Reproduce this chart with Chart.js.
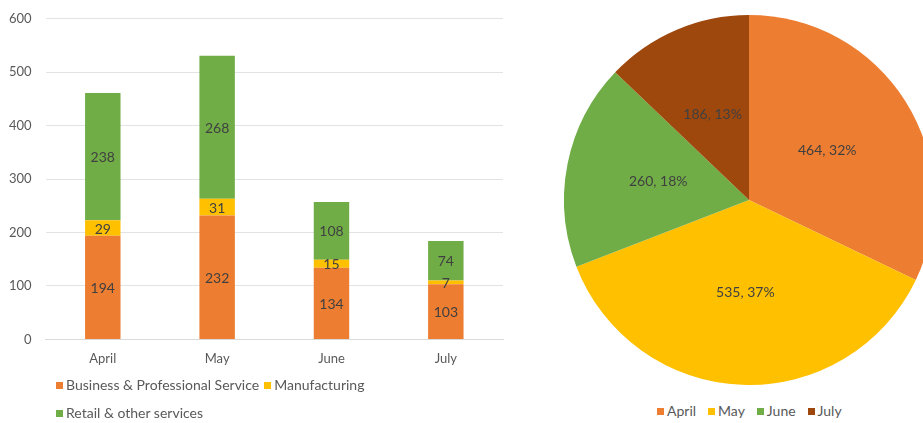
<!DOCTYPE html>
<html>
<head>
<meta charset="utf-8">
<script src="https://cdn.jsdelivr.net/npm/chart.js@4.4.1/dist/chart.umd.min.js"></script>
<style>
  html, body { margin: 0; padding: 0; background: #fff; overflow: hidden; width: 923px; height: 423px; }
  #barBox { position: absolute; left: -15px; top: -3px; width: 535px; height: 382px; }
  #pieBox { position: absolute; left: 564px; top: 15px; width: 370px; height: 370px; }
  .legend { position: absolute; font: 14px Lato, sans-serif; color: #595959; white-space: nowrap; }
  .legend span.item { display: inline-block; height: 28px; line-height: 28px; }
  .legend span.box { display: inline-block; width: 7px; height: 7px; margin-right: 3px; vertical-align: 1px; }
  #barLegend { left: 56px; top: 371px; width: 360px; white-space: normal; }
  #barLegend span.item { margin-right: 5px; }
  #pieLegend { left: 657px; top: 397px; }
  #pieLegend span.item { margin-right: 12px; }
</style>
</head>
<body>
<div id="barBox"><canvas id="barChart"></canvas></div>
<div id="barLegend" class="legend"></div>
<div id="pieBox"><canvas id="pieChart"></canvas></div>
<div id="pieLegend" class="legend"></div>
<script>
// months and enquiry counts per sector
const months = ['April', 'May', 'June', 'July'];
const businessService = [194, 232, 134, 103];
const manufacturing = [29, 31, 15, 7];
const retailServices = [238, 268, 108, 74];

// monthly totals for the pie
const monthTotals = [464, 535, 260, 186];

const yMax = 600;
const yStep = 100;

const orange = '#ED7D31';
const yellow = '#FFC000';
const green = '#70AD47';
const brown = '#9E480E';
const pieColors = [orange, yellow, green, brown];

const labelColor = '#404040';
const axisColor = '#595959';
const fontFamily = 'Lato, sans-serif';

/**
 * segmentLabels: writes each value into the middle of its bar segment / pie slice
 */
const segmentLabels = {
  id: 'segmentLabels',
  afterDatasetsDraw(chart) {
    const ctx = chart.ctx;
    ctx.save();
    ctx.font = '14px ' + fontFamily;
    ctx.fillStyle = labelColor;
    ctx.textAlign = 'center';
    ctx.textBaseline = 'middle';
    chart.data.datasets.forEach((ds, i) => {
      const meta = chart.getDatasetMeta(i);
      const sum = ds.data.reduce((a, b) => a + b, 0);
      meta.data.forEach((el, j) => {
        const v = ds.data[j];
        if (meta.type === 'pie') {
          const a = (el.startAngle + el.endAngle) / 2;
          const r = el.outerRadius / 2;
          const pct = Math.round(v / sum * 100);
          ctx.fillText(v + ', ' + pct + '%', el.x + Math.cos(a) * r, el.y + Math.sin(a) * r);
        } else {
          const p = el.getCenterPoint();
          ctx.fillText(String(v), p.x, p.y + 1);
        }
      });
    });
    ctx.restore();
  }
};

const barSeries = [
  { label: 'Business & Professional Service', data: businessService, color: orange },
  { label: 'Manufacturing', data: manufacturing, color: yellow },
  { label: 'Retail & other services', data: retailServices, color: green }
];

new Chart(document.getElementById('barChart'), {
  type: 'bar',
  data: {
    labels: months,
    datasets: barSeries.map(s => ({
      label: s.label,
      data: s.data,
      backgroundColor: s.color,
      borderWidth: 0,
      categoryPercentage: 1,
      barPercentage: 0.31
    }))
  },
  options: {
    responsive: true,
    maintainAspectRatio: false,
    animation: false,
    layout: { padding: { top: 6, left: 10, right: 17, bottom: 0 } },
    plugins: { legend: { display: false }, tooltip: { enabled: false } },
    scales: {
      x: {
        stacked: true,
        grid: { display: false, drawTicks: false },
        border: { color: '#d9d9d9', width: 1 },
        ticks: { color: axisColor, font: { family: fontFamily, size: 13 }, padding: 12 }
      },
      y: {
        stacked: true,
        min: 0,
        max: yMax,
        ticks: { stepSize: yStep, color: axisColor, font: { family: fontFamily, size: 13 }, padding: 14 },
        grid: { color: '#e3e3e3', drawTicks: false },
        border: { display: false }
      }
    }
  },
  plugins: [segmentLabels]
});

// small square + name legends, written as page text
function fillLegend(id, names, colors) {
  const div = document.getElementById(id);
  names.forEach((name, i) => {
    const item = document.createElement('span');
    item.className = 'item';
    item.innerHTML = '<span class="box" style="background:' + colors[i] + '"></span>' + name;
    div.appendChild(item);
  });
}

fillLegend('barLegend', barSeries.map(s => s.label), barSeries.map(s => s.color));

new Chart(document.getElementById('pieChart'), {
  type: 'pie',
  data: {
    labels: months,
    datasets: [{
      data: monthTotals,
      backgroundColor: pieColors,
      borderWidth: 0
    }]
  },
  options: {
    responsive: true,
    maintainAspectRatio: false,
    animation: false,
    plugins: {
      tooltip: { enabled: false },
      legend: { display: false }
    }
  },
  plugins: [segmentLabels]
});

fillLegend('pieLegend', months, pieColors);
</script>
</body>
</html>
